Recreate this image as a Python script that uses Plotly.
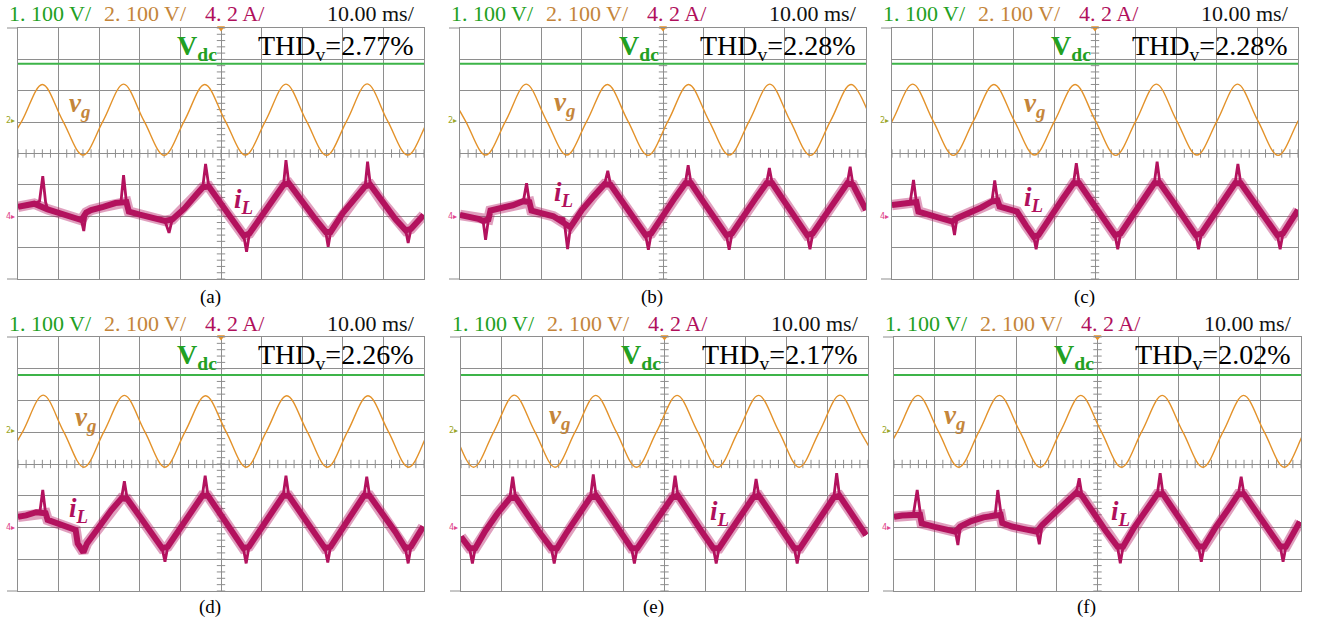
import plotly.graph_objects as go

W, H = 1317, 619

# ---------------- data ----------------
panel_names = ['(a)', '(b)', '(c)', '(d)', '(e)', '(f)']
thd_values = ['2.77%', '2.28%', '2.28%', '2.26%', '2.17%', '2.02%']
header_ch1 = '1. 100 V/'
header_ch2 = '2. 100 V/'
header_ch4 = '4. 2 A/'
header_time = '10.00 ms/'

# time axis: 10 div x 10 ms ; vertical axis in divisions
vdc_t = [0, 100]
vdc_level = [2.86, 2.86, 2.86, 2.80, 2.80, 2.80]

# grid voltage v_g (div), sampled at quarter periods
vg_t_a = [-4, 1, 6, 11, 16, 21, 26, 31, 36, 41, 46, 51, 56, 61, 66, 71, 76, 81, 86, 91, 96, 101, 106]
vg_v_a = [-0.05, 1.05, 2.2, 1.05, -0.05, 1.05, 2.21, 1.05, -0.06, 1.05, 2.2, 1.05, -0.05, 1.05, 2.21, 1.05, -0.06, 1.05, 2.22, 1.05, -0.05, 1.05, 2.2]
vg_t_b = [-3.7, 1.3, 6.3, 11.3, 16.3, 21.3, 26.3, 31.3, 36.3, 41.3, 46.3, 51.3, 56.3, 61.3, 66.3, 71.3, 76.3, 81.3, 86.3, 91.3, 96.3, 101.3]
vg_v_b = [2.2, 1.05, -0.05, 1.05, 2.21, 1.05, -0.05, 1.05, 2.2, 1.05, -0.06, 1.05, 2.2, 1.05, -0.05, 1.05, 2.21, 1.05, -0.06, 1.05, 2.2, 1.05]
vg_t_c = [-4.9, 0.1, 5.1, 10.1, 15.1, 20.1, 25.1, 30.1, 35.1, 40.1, 45.1, 50.1, 55.1, 60.1, 65.1, 70.1, 75.1, 80.1, 85.1, 90.1, 95.1, 100.1, 105.1]
vg_v_c = [-0.05, 1.05, 2.21, 1.05, -0.06, 1.05, 2.2, 1.05, -0.05, 1.05, 2.2, 1.05, -0.06, 1.05, 2.21, 1.05, -0.05, 1.05, 2.21, 1.05, -0.06, 1.05, 2.2]
vg_t_d = [-3.8, 1.2, 6.2, 11.2, 16.2, 21.2, 26.2, 31.2, 36.2, 41.2, 46.2, 51.2, 56.2, 61.2, 66.2, 71.2, 76.2, 81.2, 86.2, 91.2, 96.2, 101.2, 106.2]
vg_v_d = [-0.1, 1.03, 2.17, 1.03, -0.1, 1.03, 2.16, 1.03, -0.1, 1.03, 2.15, 1.03, -0.1, 1.03, 2.15, 1.03, -0.1, 1.03, 2.15, 1.03, -0.1, 1.03, 2.15]
vg_t_e = [-6.9, -1.9, 3.1, 8.1, 13.1, 18.1, 23.1, 28.1, 33.1, 38.1, 43.1, 48.1, 53.1, 58.1, 63.1, 68.1, 73.1, 78.1, 83.1, 88.1, 93.1, 98.1, 103.1]
vg_v_e = [2.17, 1.03, -0.1, 1.03, 2.17, 1.03, -0.1, 1.03, 2.16, 1.03, -0.1, 1.03, 2.16, 1.03, -0.1, 1.03, 2.16, 1.03, -0.1, 1.03, 2.17, 1.03, -0.1]
vg_t_f = [-4.1, 0.9, 5.9, 10.9, 15.9, 20.9, 25.9, 30.9, 35.9, 40.9, 45.9, 50.9, 55.9, 60.9, 65.9, 70.9, 75.9, 80.9, 85.9, 90.9, 95.9, 100.9, 105.9]
vg_v_f = [-0.1, 1.03, 2.16, 1.03, -0.1, 1.03, 2.16, 1.03, -0.1, 1.03, 2.16, 1.03, -0.1, 1.03, 2.16, 1.03, -0.1, 1.03, 2.16, 1.03, -0.1, 1.03, 2.16]

# inductor current i_L (div), band centre with spike tips
il_t_a = [0, 2, 4, 5.3, 6.1, 6.8, 7.3, 10, 13, 15.6, 16.2, 16.8, 18, 21, 24, 25.4, 26.0, 26.7, 27.3, 30, 33, 36.2, 37.2, 38.0,
          41, 44, 45.5, 46.2, 47, 50, 53, 55.6, 56.3, 57, 60, 63, 65.4, 66.0, 66.7, 70, 73, 75.8, 76.4, 77, 80, 83, 85.5,
          86.1, 86.8, 90, 93, 95.5, 96.1, 96.8, 99.9]
il_v_a = [-1.70, -1.66, -1.60, -1.52, -0.72, -1.55, -1.78, -1.90, -2.00, -2.12, -2.47, -1.88, -1.80, -1.70, -1.58, -1.50,
          -0.69, -1.55, -1.85, -1.95, -2.05, -2.15, -2.53, -2.10, -1.75, -1.30, -1.08, -0.33, -1.05, -1.62, -2.18, -2.62,
          -3.13, -2.55, -2.00, -1.45, -1.00, -0.21, -0.95, -1.55, -2.05, -2.50, -2.97, -2.50, -1.90, -1.45, -1.05, -0.26,
          -1.00, -1.60, -2.10, -2.45, -2.85, -2.40, -1.96]
il_t_b = [0, 2, 4.5, 5.7, 6.3, 7.0, 7.5, 10, 13, 15.6, 16.4, 17.1, 17.6, 20, 23, 25.6, 26.5, 27.2, 30, 33, 35.6, 36.4, 37.1,
          40, 43, 45.7, 46.4, 47.1, 50, 53, 55.5, 56.2, 56.9, 60, 63, 65.6, 66.3, 67, 70, 73, 75.5, 76.2, 76.9, 80, 83,
          85.5, 86.2, 86.9, 90, 93, 95.4, 96.1, 96.8, 100]
il_v_b = [-1.96, -2.00, -2.08, -2.15, -2.75, -2.10, -1.82, -1.75, -1.65, -1.52, -0.95, -1.55, -1.82, -1.92, -2.00, -2.08,
          -3.05, -2.35, -1.80, -1.35, -0.98, -0.55, -1.00, -1.55, -2.10, -2.60, -3.07, -2.55, -1.95, -1.40, -0.95, -0.37,
          -0.95, -1.55, -2.10, -2.60, -3.07, -2.55, -1.95, -1.40, -0.95, -0.46, -0.95, -1.55, -2.10, -2.60, -3.05, -2.55,
          -1.95, -1.40, -0.95, -0.42, -1.00, -1.80]
il_t_c = [0, 2, 4.5, 5.3, 6.0, 6.5, 9, 12, 14.8, 15.4, 16.0, 19, 22, 24.6, 25.3, 26.0, 26.5, 29, 30.8, 33, 34.9, 35.5, 36.1,
          39, 42, 44.7, 45.4, 46.1, 49, 52, 54.9, 55.6, 56.3, 59, 62, 64.6, 65.3, 66, 69, 72, 74.8, 75.5, 76.2, 79, 82,
          84.5, 85.2, 85.9, 89, 92, 94.9, 95.6, 96.3, 100]
il_v_c = [-1.64, -1.60, -1.53, -0.84, -1.55, -1.85, -1.95, -2.05, -2.17, -2.60, -2.06, -1.90, -1.72, -1.53, -0.86, -1.50,
          -1.69, -1.78, -1.85, -2.30, -2.65, -3.05, -2.60, -2.00, -1.45, -0.95, -0.31, -0.95, -1.50, -2.05, -2.60, -3.05,
          -2.55, -2.00, -1.45, -0.95, -0.26, -0.95, -1.50, -2.05, -2.60, -3.05, -2.55, -2.00, -1.45, -0.95, -0.33, -0.95,
          -1.50, -2.05, -2.60, -3.05, -2.55, -1.80]
il_t_d = [0, 2, 4.5, 5.4, 6.1, 6.8, 7.3, 10, 13, 14.2, 14.7, 16.1, 17, 20, 23, 25.5, 26.2, 26.9, 30, 33, 35.5, 36.2, 36.9,
          40, 43, 45.4, 46.1, 46.8, 50, 53, 55.5, 56.2, 56.9, 60, 63, 65.3, 66, 66.7, 70, 73, 75.6, 76.3, 77, 80, 83,
          85.2, 85.9, 86.6, 90, 93, 95.4, 96.1, 96.8, 99.8]
il_v_d = [-1.66, -1.62, -1.52, -1.50, -0.82, -1.55, -1.76, -1.88, -2.00, -2.08, -2.50, -2.78, -2.50, -1.95, -1.45, -1.08,
          -0.54, -1.10, -1.65, -2.20, -2.65, -3.08, -2.60, -2.00, -1.45, -1.00, -0.37, -1.00, -1.60, -2.15, -2.65, -3.13,
          -2.60, -2.00, -1.45, -1.00, -0.37, -1.00, -1.60, -2.15, -2.65, -3.10, -2.60, -2.00, -1.45, -1.00, -0.40, -1.00,
          -1.60, -2.15, -2.65, -3.13, -2.60, -1.97]
il_t_e = [0, 2.1, 2.8, 3.5, 6, 9, 12, 12.7, 13.4, 16, 19, 22.2, 22.9, 23.6, 26, 29, 31.8, 32.5, 33.2, 36, 39, 41.9, 42.6,
          43.3, 46, 49, 51.9, 52.6, 53.3, 56, 59, 62, 62.7, 63.4, 66, 69, 71.8, 72.5, 73.2, 76, 79, 81.9, 82.6, 83.3, 86,
          89, 91.6, 92.3, 93, 96, 99.5]
il_v_e = [-2.29, -2.65, -3.13, -2.65, -2.10, -1.55, -1.08, -0.40, -1.05, -1.55, -2.10, -2.65, -3.13, -2.65, -2.15, -1.60,
          -1.05, -0.33, -1.00, -1.55, -2.10, -2.65, -3.13, -2.65, -2.15, -1.60, -1.05, -0.37, -1.00, -1.55, -2.10, -2.65,
          -3.13, -2.65, -2.15, -1.60, -1.05, -0.47, -1.00, -1.55, -2.10, -2.65, -3.13, -2.65, -2.15, -1.60, -1.05, -0.29,
          -1.00, -1.60, -2.24]
il_t_f = [0, 2, 4.8, 5.7, 6.4, 6.8, 10, 13, 15.1, 15.7, 16.3, 19, 22, 24.9, 25.5, 26.2, 26.6, 29, 32, 35.1, 35.7, 36.4, 39,
          42, 44.8, 45.5, 46.2, 49, 52, 54.9, 55.6, 56.3, 59, 62, 64.7, 65.4, 66.1, 69, 72, 74.8, 75.5, 76.2, 79, 82, 84.6,
          85.3, 86, 89, 92, 94.9, 95.6, 96.3, 99.7]
il_v_f = [-1.66, -1.62, -1.55, -0.82, -1.60, -1.87, -1.98, -2.08, -2.13, -2.55, -1.97, -1.80, -1.68, -1.55, -0.82, -1.60,
          -1.86, -1.97, -2.05, -2.13, -2.53, -1.92, -1.60, -1.20, -0.90, -0.45, -1.00, -1.55, -2.10, -2.60, -3.13, -2.60,
          -2.00, -1.45, -0.95, -0.29, -0.95, -1.50, -2.05, -2.60, -3.08, -2.60, -2.00, -1.45, -0.95, -0.40, -0.95, -1.50,
          -2.05, -2.60, -3.08, -2.60, -1.82]

vg_series = [(vg_t_a, vg_v_a), (vg_t_b, vg_v_b), (vg_t_c, vg_v_c), (vg_t_d, vg_v_d), (vg_t_e, vg_v_e), (vg_t_f, vg_v_f)]
il_series = [(il_t_a, il_v_a), (il_t_b, il_v_b), (il_t_c, il_v_c), (il_t_d, il_v_d), (il_t_e, il_v_e), (il_t_f, il_v_f)]

# label positions (time ms, div)
vg_label_pos = [(12.1, 1.55), (22.7, 1.58), (32.0, 1.55), (13.5, 1.42), (21.1, 1.48), (11.8, 1.48)]
il_label_pos = [(52.7, -1.51), (22.7, -1.29), (32.0, -1.45), (12.1, -1.45), (60.7, -1.54), (52.8, -1.54)]

# ---------------- layout geometry (pixels) ----------------
panels_px = [
    (18, 424, 28, 279), (460, 866, 28, 279), (892, 1298, 28, 279),
    (18, 424, 337, 591), (461, 868, 337, 591), (894, 1301, 337, 591),
]

C_GREEN_LINE = '#3db449'
C_GREEN_TXT = '#22a022'
C_ORANGE = '#e3922a'
C_TAN = '#c4853a'
C_IL = '#b3125e'
C_IL_TXT = '#b0105c'
C_GRID = '#8e8e8e'
SERIF = 'Liberation Serif, Times New Roman, DejaVu Serif, serif'


def px_x(p):
    return p / W


def px_y(p):
    return 1 - p / H


def split_tips(t, v, thr=0.3):
    """separate sharp spike/dip vertices (drawn thin) from the noisy band body"""
    bt, bv = [], []
    for k in range(len(t)):
        if 0 < k < len(t) - 1 and abs(v[k] - (v[k - 1] + v[k + 1]) / 2) > thr:
            continue
        bt.append(t[k])
        bv.append(v[k])
    return bt, bv


fig = go.Figure()
annotations = []
shapes = []
layout_axes = {}

minor_y = [round(-4 + 0.2 * k, 2) for k in range(41)]
minor_x = [2 * k for k in range(51)]

for i, (L, R, T, B) in enumerate(panels_px):
    n = i + 1
    xs = 'x' if n == 1 else f'x{n}'
    ys = 'y' if n == 1 else f'y{n}'
    xa = 'xaxis' if n == 1 else f'xaxis{n}'
    ya = 'yaxis' if n == 1 else f'yaxis{n}'
    layout_axes[xa] = dict(domain=[px_x(L), px_x(R)], anchor=ys, range=[0, 100], dtick=10, tick0=0,
                           showgrid=True, gridcolor=C_GRID, gridwidth=1, zeroline=False,
                           showticklabels=False, ticks='', showline=True, mirror=True,
                           linecolor=C_GRID, linewidth=1, fixedrange=True)
    layout_axes[ya] = dict(domain=[px_y(B), px_y(T)], anchor=xs, range=[-4, 4], dtick=1, tick0=0,
                           showgrid=True, gridcolor=C_GRID, gridwidth=1, zeroline=False,
                           showticklabels=False, ticks='', showline=True, mirror=True,
                           linecolor=C_GRID, linewidth=1, fixedrange=True)

    # minor ticks on centre cross
    fig.add_trace(go.Scatter(x=[50] * len(minor_y), y=minor_y, mode='markers', xaxis=xs, yaxis=ys,
                             marker=dict(symbol='line-ew', size=6, line=dict(color=C_GRID, width=1)),
                             hoverinfo='skip', showlegend=False))
    fig.add_trace(go.Scatter(x=minor_x, y=[0] * len(minor_x), mode='markers', xaxis=xs, yaxis=ys,
                             marker=dict(symbol='line-ns', size=6, line=dict(color=C_GRID, width=1)),
                             hoverinfo='skip', showlegend=False))
    # trigger marker at top centre
    fig.add_trace(go.Scatter(x=[50], y=[4], mode='markers', xaxis=xs, yaxis=ys, cliponaxis=False,
                             marker=dict(symbol='triangle-down', size=7, color=C_ORANGE),
                             hoverinfo='skip', showlegend=False))

    # Vdc
    fig.add_trace(go.Scatter(x=vdc_t, y=[vdc_level[i]] * 2, mode='lines', xaxis=xs, yaxis=ys,
                             line=dict(color=C_GREEN_LINE, width=2), showlegend=False))
    # v_g
    t, v = vg_series[i]
    fig.add_trace(go.Scatter(x=t, y=v, mode='lines', xaxis=xs, yaxis=ys,
                             line=dict(color=C_ORANGE, width=1.4, shape='spline', smoothing=1.0),
                             showlegend=False))
    # i_L : noisy band (body) + thin spikes
    t, v = il_series[i]
    bt, bv = split_tips(t, v)
    fig.add_trace(go.Scatter(x=bt, y=bv, mode='lines', xaxis=xs, yaxis=ys, opacity=0.4,
                             line=dict(color=C_IL, width=10.5), showlegend=False))
    fig.add_trace(go.Scatter(x=bt, y=bv, mode='lines', xaxis=xs, yaxis=ys,
                             line=dict(color=C_IL, width=6), showlegend=False))
    fig.add_trace(go.Scatter(x=t, y=v, mode='lines', xaxis=xs, yaxis=ys,
                             line=dict(color=C_IL, width=2.8), showlegend=False))

    # extended frame stubs on the left
    for yy in (T, B):
        shapes.append(dict(type='line', xref='paper', yref='paper', x0=px_x(L - 11), x1=px_x(L),
                           y0=px_y(yy), y1=px_y(yy), line=dict(color=C_GRID, width=1)))

    # header
    hy = px_y(T - 15 if n <= 3 else T - 14)
    hfont = 22
    annotations += [
        dict(xref='paper', yref='paper', x=px_x(L - 11), y=hy, xanchor='left', yanchor='middle',
             text=header_ch1, showarrow=False, font=dict(family=SERIF, size=hfont, color=C_GREEN_TXT)),
        dict(xref='paper', yref='paper', x=px_x(L + 84), y=hy, xanchor='left', yanchor='middle',
             text=header_ch2, showarrow=False, font=dict(family=SERIF, size=hfont, color=C_TAN)),
        dict(xref='paper', yref='paper', x=px_x(L + 185), y=hy, xanchor='left', yanchor='middle',
             text=header_ch4, showarrow=False, font=dict(family=SERIF, size=hfont, color=C_IL_TXT)),
        dict(xref='paper', yref='paper', x=px_x(R - 7), y=hy, xanchor='right', yanchor='middle',
             text=header_time, showarrow=False, font=dict(family=SERIF, size=hfont, color='#111111')),
    ]
    # THD text
    annotations.append(dict(xref='paper', yref='paper', x=px_x(R - 9), y=px_y(T + 19), xanchor='right',
                            yanchor='middle', text=f'THD<sub>v</sub>={thd_values[i]}', showarrow=False,
                            font=dict(family=SERIF, size=28, color='#000000')))
    # Vdc text
    cx = (L + R) / 2
    annotations.append(dict(xref='paper', yref='paper', x=px_x(cx - 2), y=px_y(T + 19), xanchor='right',
                            yanchor='middle', text='<b>V</b><sub><b>dc</b></sub>', showarrow=False,
                            font=dict(family=SERIF, size=28, color=C_GREEN_TXT)))
    # v_g / i_L labels
    annotations.append(dict(xref=xs, yref=ys, x=vg_label_pos[i][0], y=vg_label_pos[i][1], xanchor='left',
                            yanchor='middle', text='<b><i>v</i></b><sub><b><i>g</i></b></sub>', showarrow=False,
                            font=dict(family=SERIF, size=27, color=C_TAN)))
    annotations.append(dict(xref=xs, yref=ys, x=il_label_pos[i][0], y=il_label_pos[i][1], xanchor='left',
                            yanchor='middle', text='<b><i>i</i></b><sub><b><i>L</i></b></sub>', showarrow=False,
                            font=dict(family=SERIF, size=27, color=C_IL_TXT)))
    # ground markers
    annotations.append(dict(xref='paper', yref=ys, x=px_x(L - 1), y=1.05, xanchor='right', yanchor='middle',
                            text='2▸', showarrow=False, font=dict(family='DejaVu Sans', size=8, color='#9aa62a')))
    annotations.append(dict(xref='paper', yref=ys, x=px_x(L - 1), y=-2.0, xanchor='right', yanchor='middle',
                            text='4▸', showarrow=False, font=dict(family='DejaVu Sans', size=8, color='#e0468c')))
    # panel caption
    cap_y = 297 if n <= 3 else 607
    annotations.append(dict(xref='paper', yref='paper', x=px_x(cx - 11), y=px_y(cap_y), xanchor='center',
                            yanchor='middle', text=panel_names[i], showarrow=False,
                            font=dict(family=SERIF, size=19, color='#000000')))

fig.update_layout(
    width=W, height=H, margin=dict(l=0, r=0, t=0, b=0),
    paper_bgcolor='white', plot_bgcolor='white', showlegend=False,
    annotations=annotations, shapes=shapes, **layout_axes,
)

fig.write_html('out.html', config={'displayModeBar': False})
